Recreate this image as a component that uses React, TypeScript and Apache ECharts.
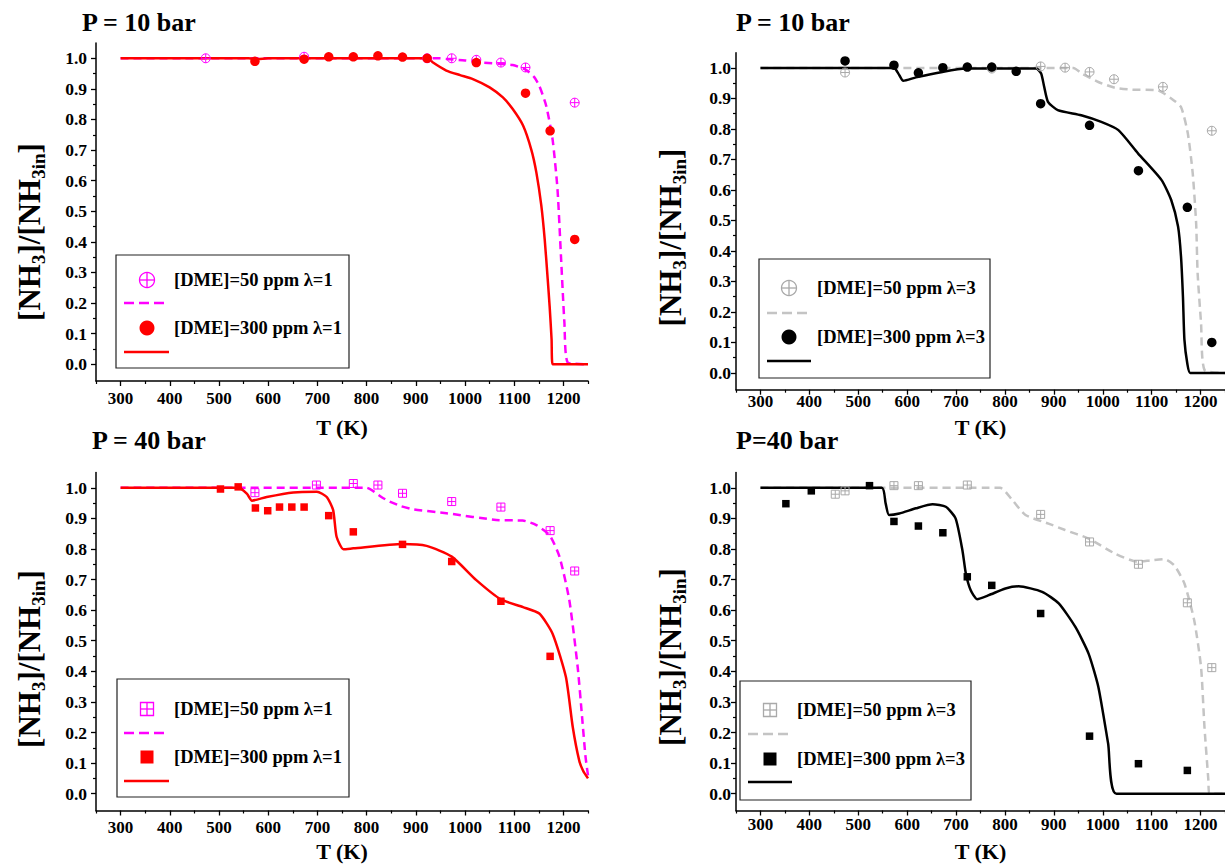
import React, { useEffect, useRef } from 'react';
import * as echarts from 'echarts';

type Pt = [number, number];

// ---------- P = 10 bar, lambda = 1 ----------
const p10L1Exp50: Pt[] = [[473, 1.0], [673, 1.005], [923, 1.0], [973, 1.0], [1023, 0.995], [1073, 0.986], [1123, 0.97], [1223, 0.855]];
const p10L1Exp300: Pt[] = [[573, 0.99], [673, 0.997], [723, 1.005], [773, 1.005], [823, 1.008], [873, 1.004], [923, 1.0], [1023, 0.986], [1123, 0.886], [1173, 0.763], [1223, 0.408]];
const p10L1Mod50: Pt[] = [[300, 1.0], [950, 1.0], [962, 0.998], [1000, 0.993], [1036, 0.986], [1097, 0.978], [1124, 0.962], [1140, 0.94], [1151, 0.91], [1165, 0.845], [1178, 0.735], [1188, 0.572], [1195, 0.355], [1202, 0.137], [1209, 0.005], [1250, 0.0]];
const p10L1Mod300: Pt[] = [[300, 1.0], [560, 1.0], [578, 0.997], [600, 1.0], [925, 1.0], [935, 0.986], [962, 0.96], [990, 0.945], [1016, 0.932], [1050, 0.905], [1077, 0.872], [1097, 0.834], [1118, 0.78], [1135, 0.7], [1145, 0.627], [1155, 0.52], [1162, 0.408], [1168, 0.28], [1172, 0.19], [1176, 0.08], [1178, 0.0], [1250, 0.0]];

// ---------- P = 10 bar, lambda = 3 ----------
const p10L3Exp50: Pt[] = [[473, 0.985], [773, 0.998], [873, 1.005], [923, 1.001], [973, 0.987], [1023, 0.963], [1123, 0.938], [1223, 0.794]];
const p10L3Exp300: Pt[] = [[473, 1.023], [573, 1.009], [623, 0.984], [673, 1.001], [723, 1.003], [773, 1.003], [823, 0.989], [873, 0.883], [973, 0.812], [1073, 0.663], [1173, 0.543], [1223, 0.1]];
const p10L3Mod50: Pt[] = [[300, 1.0], [940, 1.0], [957, 0.982], [991, 0.954], [1025, 0.935], [1059, 0.929], [1113, 0.926], [1140, 0.9], [1160, 0.872], [1174, 0.785], [1184, 0.654], [1191, 0.49], [1194, 0.327], [1201, 0.164], [1208, 0.01], [1250, 0.0]];
const p10L3Mod300: Pt[] = [[300, 1.0], [573, 1.0], [584, 0.976], [592, 0.958], [618, 0.969], [672, 0.987], [719, 0.998], [864, 0.998], [874, 0.982], [880, 0.94], [888, 0.889], [908, 0.862], [956, 0.845], [997, 0.823], [1032, 0.796], [1072, 0.72], [1120, 0.633], [1140, 0.567], [1154, 0.48], [1160, 0.382], [1164, 0.25], [1167, 0.109], [1173, 0.03], [1179, 0.0], [1250, 0.0]];

// ---------- P = 40 bar, lambda = 1 ----------
const p40L1Exp50: Pt[] = [[573, 0.984], [698, 1.009], [773, 1.014], [823, 1.009], [873, 0.982], [973, 0.955], [1073, 0.937], [1173, 0.86], [1223, 0.728]];
const p40L1Exp300: Pt[] = [[503, 0.996], [539, 1.003], [574, 0.934], [599, 0.925], [623, 0.937], [648, 0.937], [673, 0.937], [723, 0.909], [773, 0.856], [873, 0.815], [973, 0.759], [1073, 0.629], [1173, 0.449]];
const p40L1Mod50: Pt[] = [[300, 1.0], [800, 1.0], [813, 0.99], [830, 0.97], [847, 0.955], [870, 0.94], [894, 0.93], [962, 0.917], [1070, 0.894], [1117, 0.893], [1145, 0.878], [1172, 0.845], [1192, 0.775], [1212, 0.633], [1229, 0.414], [1238, 0.25], [1245, 0.12], [1250, 0.06]];
const p40L1Mod300: Pt[] = [[300, 1.0], [540, 1.0], [557, 0.98], [567, 0.958], [597, 0.97], [651, 0.985], [699, 0.987], [719, 0.97], [732, 0.927], [739, 0.84], [753, 0.799], [773, 0.802], [873, 0.816], [922, 0.81], [973, 0.775], [1023, 0.698], [1073, 0.635], [1118, 0.61], [1151, 0.589], [1178, 0.523], [1205, 0.382], [1219, 0.218], [1232, 0.109], [1240, 0.075], [1250, 0.05]];

// ---------- P = 40 bar, lambda = 3 ----------
const p40L3Exp50: Pt[] = [[453, 0.979], [473, 0.99], [573, 1.007], [623, 1.007], [723, 1.009], [873, 0.913], [973, 0.823], [1073, 0.75], [1173, 0.624], [1223, 0.412]];
const p40L3Exp300: Pt[] = [[352, 0.948], [404, 0.99], [523, 1.007], [573, 0.89], [623, 0.875], [673, 0.853], [723, 0.709], [773, 0.681], [873, 0.589], [973, 0.188], [1073, 0.098], [1173, 0.076]];
const p40L3Mod50: Pt[] = [[300, 1.0], [790, 1.0], [815, 0.96], [842, 0.911], [889, 0.883], [923, 0.862], [971, 0.834], [1025, 0.785], [1072, 0.758], [1099, 0.763], [1126, 0.767], [1146, 0.747], [1167, 0.687], [1187, 0.567], [1201, 0.414], [1208, 0.218], [1216, 0.044], [1218, 0.0], [1250, 0.0]];
const p40L3Mod300: Pt[] = [[300, 1.0], [548, 1.0], [556, 0.949], [563, 0.911], [584, 0.916], [618, 0.933], [652, 0.946], [679, 0.938], [699, 0.9], [713, 0.796], [720, 0.72], [730, 0.665], [743, 0.636], [767, 0.649], [801, 0.671], [828, 0.678], [876, 0.66], [910, 0.622], [944, 0.545], [971, 0.458], [991, 0.349], [1011, 0.164], [1028, 0.0], [1250, 0.0]];

// ---------- ticks & texts ----------
const xMajorTicks = [300, 400, 500, 600, 700, 800, 900, 1000, 1100, 1200];
const xMinorTicks = [250, 350, 450, 550, 650, 750, 850, 950, 1050, 1150, 1250];
const yMajorTicks = [0, 0.1, 0.2, 0.3, 0.4, 0.5, 0.6, 0.7, 0.8, 0.9, 1.0];
const yMinorTicks = [0.05, 0.15, 0.25, 0.35, 0.45, 0.55, 0.65, 0.75, 0.85, 0.95];
const panelTitles = ['P = 10 bar', 'P = 10 bar', 'P = 40 bar', 'P=40 bar'];
const legend50Labels = ['[DME]=50 ppm \u03bb=1', '[DME]=50 ppm \u03bb=3', '[DME]=50 ppm \u03bb=1', '[DME]=50 ppm \u03bb=3'];
const legend300Labels = ['[DME]=300 ppm \u03bb=1', '[DME]=300 ppm \u03bb=3', '[DME]=300 ppm \u03bb=1', '[DME]=300 ppm \u03bb=3'];
const xAxisTitle = 'T (K)';

const FONT = '"Liberation Serif", "Times New Roman", serif';
const X_MIN = 250, X_MAX = 1250, Y_MIN = -0.055, Y_MAX = 1.05;

const circlePlus = 'path://M0,10A10,10,0,1,1,20,10A10,10,0,1,1,0,10ZM10,0L10,20M0,10L20,10';
const squarePlus = 'path://M0,0L20,0L20,20L0,20ZM10,0L10,20M0,10L20,10';

const MAGENTA = '#FF00FF';
const RED = '#FF0000';
const GREY_M = '#A9A9A9';
const GREY_D = '#C4C4C4';
const BLACK = '#000000';

interface Panel {
  grid: { left: number; top: number; width: number; height: number };
  exp50: Pt[]; exp300: Pt[]; mod50: Pt[]; mod300: Pt[];
  cMark50: string; cDash: string; c300: string;
  mark50: string; mark300: string; size50: number; size300: number;
  yLabelMargin: number; xLabelMargin: number; nameGap: number;
  title: { x: number; y: number };
  yName: { x: number; y: number };
  legend: { bx: number; by: number; bw: number; bh: number; mx: number; tx: number; y1: number; yd: number; y2: number; ys: number; lx1: number; lx2: number };
  square: boolean;
}

const panels: Panel[] = [
  {
    grid: { left: 96, top: 43, width: 492, height: 338 },
    exp50: p10L1Exp50, exp300: p10L1Exp300, mod50: p10L1Mod50, mod300: p10L1Mod300,
    cMark50: MAGENTA, cDash: MAGENTA, c300: RED, mark50: circlePlus, mark300: 'circle', size50: 9, size300: 9.5,
    yLabelMargin: 9, xLabelMargin: 9, nameGap: 35,
    title: { x: 82, y: 22.5 }, yName: { x: 29, y: 232 },
    legend: { bx: 116, by: 255, bw: 233, bh: 113, mx: 147, tx: 174, y1: 280, yd: 303, y2: 328, ys: 352, lx1: 124, lx2: 169 },
    square: false,
  },
  {
    grid: { left: 736, top: 52.7, width: 491, height: 337 },
    exp50: p10L3Exp50, exp300: p10L3Exp300, mod50: p10L3Mod50, mod300: p10L3Mod300,
    cMark50: GREY_M, cDash: GREY_D, c300: BLACK, mark50: circlePlus, mark300: 'circle', size50: 9, size300: 9.5,
    yLabelMargin: 5, xLabelMargin: 3, nameGap: 27,
    title: { x: 736, y: 22.5 }, yName: { x: 670, y: 237.5 },
    legend: { bx: 759, by: 259, bw: 231, bh: 119, mx: 789, tx: 817, y1: 288, yd: 313, y2: 337, ys: 361, lx1: 767, lx2: 811 },
    square: false,
  },
  {
    grid: { left: 96, top: 472.5, width: 492, height: 338 },
    exp50: p40L1Exp50, exp300: p40L1Exp300, mod50: p40L1Mod50, mod300: p40L1Mod300,
    cMark50: MAGENTA, cDash: MAGENTA, c300: RED, mark50: squarePlus, mark300: 'rect', size50: 8, size300: 7.5,
    yLabelMargin: 9, xLabelMargin: 8, nameGap: 30,
    title: { x: 92, y: 440 }, yName: { x: 29, y: 659 },
    legend: { bx: 117, by: 679, bw: 232, bh: 118, mx: 147, tx: 174, y1: 709, yd: 733, y2: 757, ys: 781, lx1: 124, lx2: 169 },
    square: true,
  },
  {
    grid: { left: 736, top: 472.5, width: 491, height: 338 },
    exp50: p40L3Exp50, exp300: p40L3Exp300, mod50: p40L3Mod50, mod300: p40L3Mod300,
    cMark50: GREY_M, cDash: GREY_D, c300: BLACK, mark50: squarePlus, mark300: 'rect', size50: 8, size300: 7.5,
    yLabelMargin: 5, xLabelMargin: 5, nameGap: 30,
    title: { x: 736, y: 440 }, yName: { x: 670, y: 657 },
    legend: { bx: 740, by: 681, bw: 231, bh: 119, mx: 770, tx: 797, y1: 710, yd: 734, y2: 759, ys: 782, lx1: 748, lx2: 792 },
    square: true,
  },
];

function yNameGroup(cx: number, cy: number): any {
  const F = 31, S = 19;
  const parts: { t: string; sub: boolean }[] = [
    { t: '[NH', sub: false }, { t: '3', sub: true }, { t: ']/[NH', sub: false }, { t: '3in', sub: true }, { t: ']', sub: false },
  ];
  const widths = [1.833 * F, 0.5 * S, 2.444 * F, 1.334 * S, 0.333 * F];
  const total = widths.reduce((a, b) => a + b, 0);
  let x = -total / 2;
  const children: any[] = [];
  parts.forEach((p, i) => {
    children.push({
      type: 'text',
      x, y: p.sub ? 9 : 0,
      style: {
        text: p.t, fill: '#000', fontFamily: FONT, fontWeight: 'bold', fontSize: p.sub ? S : F,
        align: 'left', verticalAlign: 'middle',
      },
    });
    x += widths[i];
  });
  return { type: 'group', x: cx, y: cy, rotation: Math.PI / 2, children, silent: true };
}

function legendGraphics(p: Panel, idx: number): any[] {
  const L = p.legend;
  const out: any[] = [];
  out.push({ type: 'rect', shape: { x: L.bx, y: L.by, width: L.bw, height: L.bh }, style: { fill: '#fff', stroke: '#222', lineWidth: 1.2 }, z: 10 });
  const r = 7.5;
  if (!p.square) {
    out.push({ type: 'circle', shape: { cx: L.mx, cy: L.y1, r }, style: { fill: 'none', stroke: p.cMark50, lineWidth: 1.3 }, z: 11 });
  } else {
    out.push({ type: 'rect', shape: { x: L.mx - 6.5, y: L.y1 - 6.5, width: 13, height: 13 }, style: { fill: 'none', stroke: p.cMark50, lineWidth: 1.3 }, z: 11 });
  }
  const h = p.square ? 6.5 : r;
  out.push({ type: 'line', shape: { x1: L.mx - h, y1: L.y1, x2: L.mx + h, y2: L.y1 }, style: { stroke: p.cMark50, lineWidth: 1.3 }, z: 11 });
  out.push({ type: 'line', shape: { x1: L.mx, y1: L.y1 - h, x2: L.mx, y2: L.y1 + h }, style: { stroke: p.cMark50, lineWidth: 1.3 }, z: 11 });
  if (!p.square) {
    out.push({ type: 'circle', shape: { cx: L.mx, cy: L.y2, r }, style: { fill: p.c300 }, z: 11 });
  } else {
    out.push({ type: 'rect', shape: { x: L.mx - 6.5, y: L.y2 - 6.5, width: 13, height: 13 }, style: { fill: p.c300 }, z: 11 });
  }
  out.push({ type: 'line', shape: { x1: L.lx1, y1: L.yd, x2: L.lx2, y2: L.yd }, style: { stroke: p.cDash, lineWidth: 2.5, lineDash: [10, 5] }, z: 11 });
  out.push({ type: 'line', shape: { x1: L.lx1, y1: L.ys, x2: L.lx2, y2: L.ys }, style: { stroke: p.c300, lineWidth: 2.5 }, z: 11 });
  const ts = { fill: '#000', fontFamily: FONT, fontWeight: 'bold', fontSize: 18.5, align: 'left', verticalAlign: 'middle' };
  out.push({ type: 'text', style: { ...ts, text: legend50Labels[idx], x: L.tx, y: L.y1 }, z: 11 });
  out.push({ type: 'text', style: { ...ts, text: legend300Labels[idx], x: L.tx, y: L.y2 }, z: 11 });
  return out;
}

function buildOption(): any {
  const grid: any[] = [];
  const xAxis: any[] = [];
  const yAxis: any[] = [];
  const series: any[] = [];
  const graphic: any[] = [];
  const axisLineStyle = { color: '#000', width: 1.5 };

  panels.forEach((p, i) => {
    grid.push({ ...p.grid, containLabel: false });
    xAxis.push({
      type: 'value', gridIndex: i, min: X_MIN, max: X_MAX, position: 'bottom',
      axisLine: { show: true, onZero: false, lineStyle: axisLineStyle },
      axisTick: { show: true, customValues: xMajorTicks, length: 5, lineStyle: { color: '#000', width: 1.3 } },
      axisLabel: {
        customValues: xMajorTicks, margin: p.xLabelMargin, color: '#000', fontFamily: FONT, fontWeight: 'bold', fontSize: 17,
        formatter: (v: number) => String(Math.round(v)),
      },
      splitLine: { show: false },
      name: xAxisTitle, nameLocation: 'middle', nameGap: p.nameGap,
      nameTextStyle: { color: '#000', fontFamily: FONT, fontWeight: 'bold', fontSize: 22 },
    });
    xAxis.push({
      type: 'value', gridIndex: i, min: X_MIN, max: X_MAX, position: 'bottom',
      axisLine: { show: false, onZero: false },
      axisTick: { show: true, customValues: xMinorTicks, length: 3, lineStyle: { color: '#000', width: 1.2 } },
      axisLabel: { show: false },
      splitLine: { show: false },
    });
    yAxis.push({
      type: 'value', gridIndex: i, min: Y_MIN, max: Y_MAX, position: 'left',
      axisLine: { show: true, onZero: false, lineStyle: axisLineStyle },
      axisTick: { show: true, customValues: yMajorTicks, length: 5, lineStyle: { color: '#000', width: 1.3 } },
      axisLabel: {
        customValues: yMajorTicks, margin: p.yLabelMargin, color: '#000', fontFamily: FONT, fontWeight: 'bold', fontSize: 17.5,
        formatter: (v: number) => v.toFixed(1),
      },
      splitLine: { show: false },
    });
    yAxis.push({
      type: 'value', gridIndex: i, min: Y_MIN, max: Y_MAX, position: 'left',
      axisLine: { show: false, onZero: false },
      axisTick: { show: true, customValues: yMinorTicks, length: 3, lineStyle: { color: '#000', width: 1.2 } },
      axisLabel: { show: false },
      splitLine: { show: false },
    });
    const xi = 2 * i, yi = 2 * i;
    series.push({
      type: 'line', xAxisIndex: xi, yAxisIndex: yi, data: p.mod50, showSymbol: false, symbol: 'none', smooth: 0.2,
      lineStyle: { color: p.cDash, width: 2.5, type: [8, 5] }, z: 2, silent: true,
    });
    series.push({
      type: 'line', xAxisIndex: xi, yAxisIndex: yi, data: p.mod300, showSymbol: false, symbol: 'none', smooth: 0.2,
      lineStyle: { color: p.c300, width: 2.5 }, z: 3, silent: true,
    });
    series.push({
      type: 'scatter', xAxisIndex: xi, yAxisIndex: yi, data: p.exp50, symbol: p.mark50, symbolSize: p.size50,
      itemStyle: { color: 'rgba(0,0,0,0)', borderColor: p.cMark50, borderWidth: 1, opacity: 1 }, z: 4, silent: true,
    });
    series.push({
      type: 'scatter', xAxisIndex: xi, yAxisIndex: yi, data: p.exp300, symbol: p.mark300, symbolSize: p.size300,
      itemStyle: { color: p.c300, opacity: 1 }, z: 5, silent: true,
    });

    graphic.push({
      type: 'text', x: p.title.x, y: p.title.y,
      style: { text: panelTitles[i], fill: '#000', fontFamily: FONT, fontWeight: 'bold', fontSize: 26, align: 'left', verticalAlign: 'middle' },
    });
    graphic.push(yNameGroup(p.yName.x, p.yName.y));
    legendGraphics(p, i).forEach((g) => graphic.push(g));
  });

  return { animation: false, backgroundColor: '#fff', grid, xAxis, yAxis, series, graphic };
}

export default function App() {
  const ref = useRef<HTMLDivElement>(null);
  useEffect(() => {
    document.body.style.margin = '0';
    const chart = echarts.init(ref.current as HTMLDivElement, null, { renderer: 'svg' });
    chart.setOption(buildOption());
    return () => chart.dispose();
  }, []);
  return <div ref={ref} style={{ width: 1225, height: 868 }} />;
}
